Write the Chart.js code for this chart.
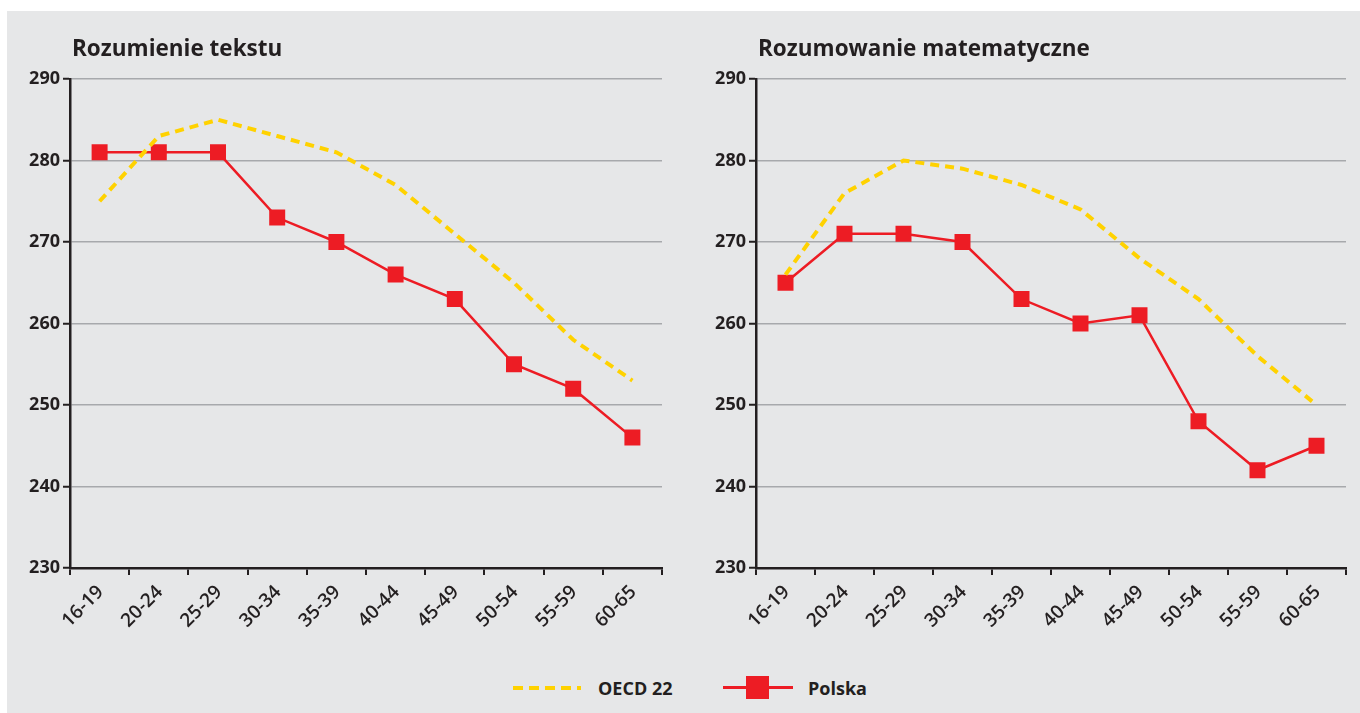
<!DOCTYPE html>
<html>
<head>
<meta charset="utf-8">
<script src="https://cdn.jsdelivr.net/npm/chart.js@4.4.1/dist/chart.umd.min.js"></script>
<style>
    body { margin: 0; background: #fff; width: 1360px; height: 713px; overflow: hidden; font-family: "Open Sans", sans-serif; }
    #panel { position: absolute; left: 7px; top: 11px; width: 1353px; height: 702px; background: #e6e7e8; }
    canvas { position: absolute; top: 11px; }
    #readingChart { left: 7px; }
    #mathChart { left: 693px; }
    .legend-item { position: absolute; font-weight: 700; font-size: 18px; color: #231f20; }
    .dash-sample { position: absolute; left: 513px; top: 686px; width: 68px; height: 4px;
        background: repeating-linear-gradient(to right, #ffd200 0 10px, transparent 10px 16px); }
    .line-sample { position: absolute; left: 723px; top: 686px; width: 70px; height: 3px; background: #ed1c24; }
    .square-sample { position: absolute; left: 746px; top: 676px; width: 23px; height: 23px; background: #ed1c24; }
</style>
</head>
<body>
<div id="panel"></div>
<canvas id="readingChart" width="680" height="640"></canvas>
<canvas id="mathChart" width="667" height="640"></canvas>

<div class="dash-sample"></div>
<div class="legend-item" style="left:598px; top:676px;">OECD 22</div>
<div class="line-sample"></div>
<div class="square-sample"></div>
<div class="legend-item" style="left:808px; top:676px;">Polska</div>

<script>
const categories = ['16-19', '20-24', '25-29', '30-34', '35-39', '40-44', '45-49', '50-54', '55-59', '60-65'];

// Rozumienie tekstu
const readingOECD = [275, 283, 285, 283, 281, 277, 271, 265, 258, 253];
const readingPolska = [281, 281, 281, 273, 270, 266, 263, 255, 252, 246];

// Rozumowanie matematyczne
const mathOECD = [266, 276, 280, 279, 277, 274, 268, 263, 256, 250];
const mathPolska = [265, 271, 271, 270, 263, 260, 261, 248, 242, 245];

const yMin = 230;
const yMax = 290;
const yStep = 10;

const DARK = '#231f20';
const GRID = '#a7a9ac';
const RED = '#ed1c24';
const YELLOW = '#ffd200';

// tytul panelu rysowany od lewej krawedzi obszaru wykresu
const panelTitle = {
    id: 'panelTitle',
    afterDraw(chart, args, opts) {
        const ctx = chart.ctx;
        ctx.save();
        ctx.font = 'bold 22.5px "Open Sans"';
        ctx.fillStyle = DARK;
        ctx.textAlign = 'left';
        ctx.textBaseline = 'alphabetic';
        ctx.fillText(opts.text, chart.chartArea.left + 2, 45);
        ctx.restore();
    }
};

function makeChart(id, title, oecd, polska, rightPad) {
    const ctx = document.getElementById(id).getContext('2d');
    return new Chart(ctx, {
        type: 'line',
        data: {
            labels: categories,
            datasets: [{
                label: 'OECD 22',
                data: oecd,
                borderColor: YELLOW,
                borderWidth: 4,
                borderDash: [9, 6],
                pointRadius: 0,
                tension: 0,
                order: 0
            }, {
                label: 'Polska',
                data: polska,
                borderColor: RED,
                backgroundColor: RED,
                borderWidth: 2.5,
                pointStyle: 'rect',
                pointRadius: 11.3,
                pointBorderWidth: 0,
                tension: 0,
                order: 1
            }]
        },
        options: {
            responsive: false,
            animation: false,
            layout: { autoPadding: false, padding: { left: 0, right: rightPad, top: 68, bottom: 13 } },
            plugins: {
                legend: { display: false },
                tooltip: { enabled: false },
                panelTitle: { text: title }
            },
            scales: {
                x: {
                    offset: true,
                    border: { color: DARK, width: 2.5 },
                    grid: { offset: true, drawOnChartArea: false, drawTicks: true, tickLength: 7, color: DARK, lineWidth: 2 },
                    ticks: {
                        autoSkip: false, minRotation: 45, maxRotation: 45, labelOffset: 1, padding: 6,
                        color: DARK, font: { family: 'Open Sans', size: 19, weight: 600 }
                    },
                    afterFit: s => { s.height = 70; }
                },
                y: {
                    min: yMin, max: yMax,
                    border: { color: DARK, width: 2.5 },
                    grid: { color: GRID, lineWidth: 1.5, tickColor: DARK, tickLength: 7, tickWidth: 2 },
                    ticks: {
                        stepSize: yStep, padding: 3,
                        color: DARK, font: { family: 'Open Sans', size: 18, weight: 700 }
                    },
                    afterFit: s => { s.width = 63; }
                }
            }
        },
        plugins: [panelTitle]
    });
}

makeChart('readingChart', 'Rozumienie tekstu', readingOECD, readingPolska, 25);
makeChart('mathChart', 'Rozumowanie matematyczne', mathOECD, mathPolska, 14);
</script>
</body>
</html>
